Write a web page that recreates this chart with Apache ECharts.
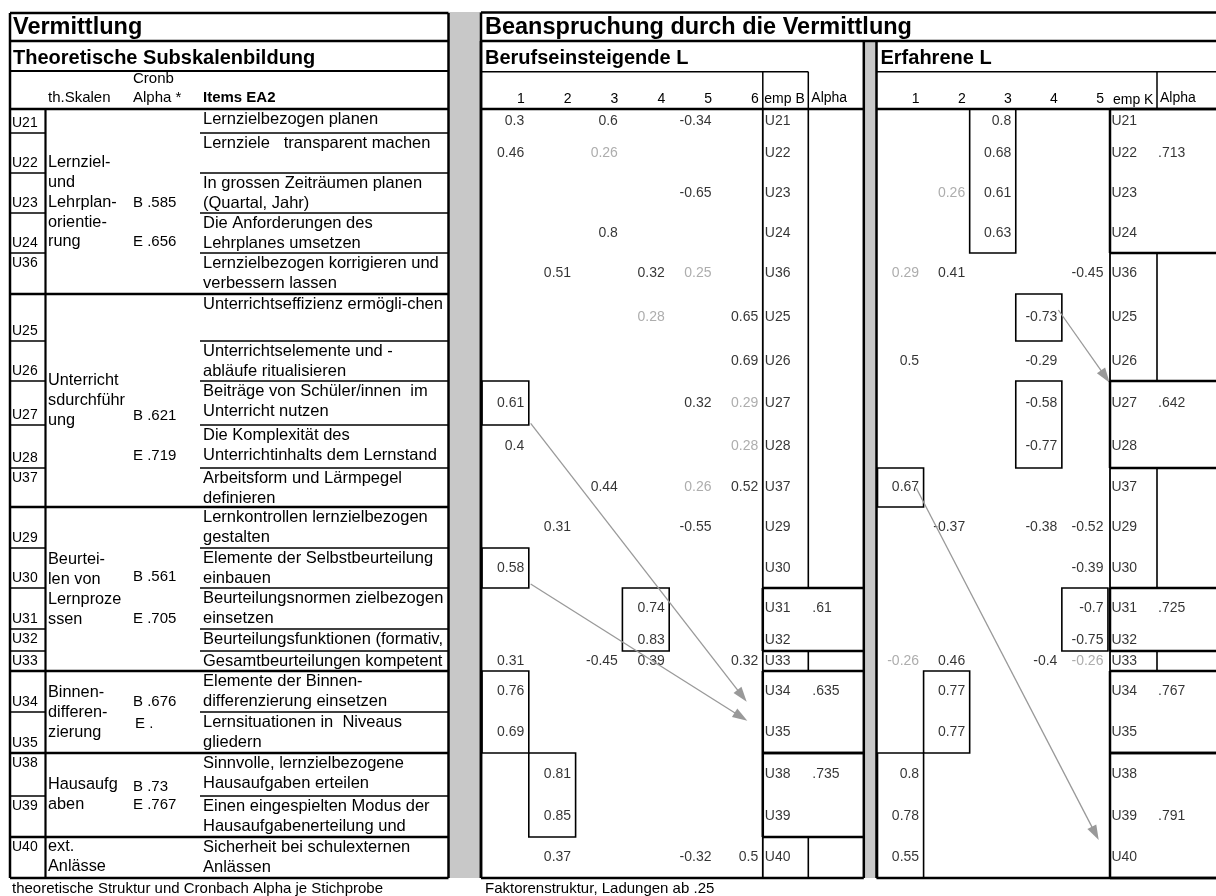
<!DOCTYPE html>
<html><head><meta charset="utf-8">
<script src="https://cdn.jsdelivr.net/npm/echarts@6/dist/echarts.min.js"></script>
<style>html,body{margin:0;padding:0;background:#fff}#c{width:1216px;height:896px}</style>
</head><body><div id="c"></div>
<script>
// ================= DATA =================
const codes = ['U21','U22','U23','U24','U36','U25','U26','U27','U28','U37','U29','U30','U31','U32','U33','U34','U35','U38','U39','U40'];
const items = [
  ['Lernzielbezogen planen'],
  ['Lernziele   transparent machen'],
  ['In grossen Zeiträumen planen','(Quartal, Jahr)'],
  ['Die Anforderungen des','Lehrplanes umsetzen'],
  ['Lernzielbezogen korrigieren und','verbessern lassen'],
  ['Unterrichtseffizienz ermögli-chen'],
  ['Unterrichtselemente und -','abläufe ritualisieren'],
  ['Beiträge von Schüler/innen  im','Unterricht nutzen'],
  ['Die Komplexität des','Unterrichtinhalts dem Lernstand'],
  ['Arbeitsform und Lärmpegel','definieren'],
  ['Lernkontrollen lernzielbezogen','gestalten'],
  ['Elemente der Selbstbeurteilung','einbauen'],
  ['Beurteilungsnormen zielbezogen','einsetzen'],
  ['Beurteilungsfunktionen (formativ,'],
  ['Gesamtbeurteilungen kompetent'],
  ['Elemente der Binnen-','differenzierung einsetzen'],
  ['Lernsituationen in  Niveaus','gliedern'],
  ['Sinnvolle, lernzielbezogene','Hausaufgaben erteilen'],
  ['Einen eingespielten Modus der','Hausaufgabenerteilung und'],
  ['Sicherheit bei schulexternen','Anlässen']
];
const scaleNames = [
  ['Lernziel-','und','Lehrplan-','orientie-','rung'],
  ['Unterricht','sdurchführ','ung'],
  ['Beurtei-','len von','Lernproze','ssen'],
  ['Binnen-','differen-','zierung'],
  ['Hausaufg','aben'],
  ['ext.','Anlässe']
];
const scaleAlphaB = ['B .585','B .621','B .561','B .676','B .73',''];
const scaleAlphaE = ['E .656','E .719','E .705','E .','E .767',''];
const scaleLastRow = ['U36','U37','U33','U35','U39','U40'];

const factorLabelsB = ['1','2','3','4','5','6'];
const factorLabelsE = ['1','2','3','4','5'];

// loadings, Berufseinsteigende (factors 1..6)
const loadB = [
  [0.3,null,0.6,null,-0.34,null],
  [0.46,null,0.26,null,null,null],
  [null,null,null,null,-0.65,null],
  [null,null,0.8,null,null,null],
  [null,0.51,null,0.32,0.25,null],
  [null,null,null,0.28,null,0.65],
  [null,null,null,null,null,0.69],
  [0.61,null,null,null,0.32,0.29],
  [0.4,null,null,null,null,0.28],
  [null,null,0.44,null,0.26,0.52],
  [null,0.31,null,null,-0.55,null],
  [0.58,null,null,null,null,null],
  [null,null,null,0.74,null,null],
  [null,null,null,0.83,null,null],
  [0.31,null,-0.45,0.39,null,0.32],
  [0.76,null,null,null,null,null],
  [0.69,null,null,null,null,null],
  [null,0.81,null,null,null,null],
  [null,0.85,null,null,null,null],
  [null,0.37,null,null,-0.32,0.5]
];
// loadings, Erfahrene (factors 1..5)
const loadE = [
  [null,null,0.8,null,null],
  [null,null,0.68,null,null],
  [null,0.26,0.61,null,null],
  [null,null,0.63,null,null],
  [0.29,0.41,null,null,-0.45],
  [null,null,null,-0.73,null],
  [0.5,null,null,-0.29,null],
  [null,null,null,-0.58,null],
  [null,null,null,-0.77,null],
  [0.67,null,null,null,null],
  [null,-0.37,null,-0.38,-0.52],
  [null,null,null,null,-0.39],
  [null,null,null,null,-0.7],
  [null,null,null,null,-0.75],
  [-0.26,0.46,null,-0.4,-0.26],
  [null,0.77,null,null,null],
  [null,0.77,null,null,null],
  [0.8,null,null,null,null],
  [0.78,null,null,null,null],
  [0.55,null,null,null,null]
];
// weak (secondary) loadings, [item, factor]
const weakB = [['U22',3],['U36',5],['U25',4],['U27',6],['U28',6],['U37',5]];
const weakE = [['U23',2],['U36',1],['U33',1],['U33',5]];
const alphaB = [['U31','.61'],['U34','.635'],['U38','.735']];
const alphaE = [['U22','.713'],['U27','.642'],['U31','.725'],['U34','.767'],['U39','.791']];
const empGroupsB = [['U31','U32'],['U34','U35'],['U38','U39']];
const empGroupsE = [['U21','U24'],['U27','U28'],['U31','U32'],['U34','U35'],['U38','U40']];
const boxesB = [[1,'U27','U27'],[1,'U30','U30'],[4,'U31','U32'],[1,'U34','U35'],[2,'U38','U39']];
const boxesE = [[3,'U21','U24'],[4,'U25','U25'],[4,'U27','U28'],[1,'U37','U37'],[5,'U31','U32'],[2,'U34','U35'],[1,'U38','U40']];
const arrowsB = [[1,'U27','U34'],[1,'U30','U35']];
const arrowsE = [[4,'U25','U27'],[1,'U37','U39']];

// ================= LAYOUT =================
const FONT = '"Liberation Sans", Arial, Helvetica, sans-serif';
const rowBounds = [109,133,173,213,253,294,341,381,425,468,507,548,588,629,651,671,712,753,796,837,878];
const codeAlign = ['b','b','b','b','t','b','b','b','b','t','b','b','b','t','t','b','b','t','t','t'];
const scaleY0 = [163,381,560,693,785,847];
const scaleAlphaBY = [203,416,577,702,787];
const scaleAlphaEY = [242,456,619,724,805];
const arrowLayB = [[0.04,20.3,-0.344,10.2],[0.04,16,-0.331,-11.8]];
const arrowLayE = [[-0.075,-7.5,0.037,-20.3],[-0.157,0.8,-0.2,23.5]];
const TOP = rowBounds[0], BOT = rowBounds[rowBounds.length-1], H = BOT - TOP;
const B = {x0:482, colW:46.8, nF:6, empW:45.5, alphaW:55.5, border:481};
const E = {x0:877.5, colW:46.5, nF:5, empW:47, alphaW:59, border:876.5};
[B,E].forEach(P => { P.w = P.nF*P.colW + P.empW + P.alphaW; P.right = P.x0 + P.w; P.empX = P.x0 + P.nF*P.colW; P.alX = P.empX + P.empW; });
const ri = c => codes.indexOf(c);
const yTop = i => rowBounds[i] - TOP, yBot = i => rowBounds[i+1] - TOP, yMid = i => (yTop(i) + yBot(i)) / 2;

// ================= GRAPHIC (table frame & texts) =================
const G = [];
const line = (x1,y1,x2,y2,w) => G.push({type:'line', silent:true, z:20, shape:{x1,y1,x2,y2}, style:{stroke:'#000', lineWidth:w}});
const rect = (x,y,w,h,fill) => G.push({type:'rect', silent:true, z:1, shape:{x,y,width:w,height:h}, style:{fill}});
const text = (x,y,t,size,bold,color) => G.push({type:'text', silent:true, z:20, x, y,
  style:{text:t, fill:color||'#000', font:(bold?'bold ':'')+size+'px '+FONT, textAlign:'left', textVerticalAlign:'middle', align:'left', verticalAlign:'middle'}});

// gray bands
rect(449, 12, 32, BOT-12, '#c8c8c8');
rect(B.right, 41, E.border - B.right, BOT-41, '#c8c8c8');

// ---- left panel ----
const L = {x0:10, x1:448.5, codeX:45.5, itemX:200};
line(L.x0,13,L.x1,13,2.5); line(L.x0,BOT,L.x1,BOT,2.5);
line(L.x0,13,L.x0,BOT,2.5); line(L.x1,13,L.x1,BOT,2.5);
line(L.x0,41,L.x1,41,2.5); line(L.x0,71,L.x1,71,2); line(L.x0,TOP,L.x1,TOP,2.5);
line(L.codeX,TOP,L.codeX,BOT,2.2);
const groupBounds = scaleLastRow.map(c => ri(c)+1);
for (let j = 1; j < rowBounds.length-1; j++) {
  const y = rowBounds[j];
  if (groupBounds.includes(j)) line(L.x0,y,L.x1,y,2.5);
  else { line(L.x0,y,L.codeX,y,1.6); line(L.itemX,y,L.x1,y,1.6); }
}
text(13, 28, 'Vermittlung', 23.5, true);
text(13, 58, 'Theoretische Subskalenbildung', 20, true);
text(48, 98, 'th.Skalen', 15);
text(133, 79, 'Cronb', 15);
text(133, 98, 'Alpha *', 15);
text(203, 98, 'Items EA2', 15, true);
codes.forEach((c,i) => text(12, codeAlign[i]==='b' ? rowBounds[i+1]-10 : rowBounds[i]+10, c, 14));
items.forEach((lines,i) => lines.forEach((t,k) => text(203, rowBounds[i]+10.5+k*20, t, 16.5)));
scaleNames.forEach((lines,g) => lines.forEach((t,k) => text(48, scaleY0[g]+k*19.7, t, 16.3)));
scaleAlphaB.forEach((t,g) => { if (t) text(133, scaleAlphaBY[g], t, 15); });
scaleAlphaE.forEach((t,g) => { if (t) text(g===3?135:133, scaleAlphaEY[g], t, 15); });
text(12, 889, 'theoretische Struktur und Cronbach Alpha je Stichprobe', 15);

// ---- right panels frame ----
line(B.border,12.5,1222,12.5,2.5); line(B.border,41,1222,41,2.5);
line(B.border,12.5,B.border,BOT,2.5);
text(485, 28, 'Beanspruchung durch die Vermittlung', 23.5, true);
text(485, 889, 'Faktorenstruktur, Ladungen ab .25', 15);

function panelFrame(P, groups, title, hdr) {
  const xr = P === B ? P.right : 1222;
  if (P === B) line(P.right, 41, P.right, BOT, 2.5);
  line(P.border, 41, P.border, BOT, 2.5);
  line(P.border, BOT, xr, BOT, 2.5);
  line(P.border, TOP, xr, TOP, 2.5);
  text(P.border+4, 58, title, 20, true);
  // header row
  const hEnd = P === B ? P.alX : xr;
  line(P.border, 71.7, hEnd, 71.7, 1.5);
  if (P === B) line(P.empX, 71.7, P.empX, TOP, 1.5);
  line(P.alX, 71.7, P.alX, TOP, 1.5);
  text(P.empX + (P===B?1.5:3), P===B?99:100, hdr, 14);
  text(P.alX + 3, 98, 'Alpha', 14);
  // emp column
  line(P.empX, TOP, P.empX, BOT, 1.8);
  const inGroup = new Array(codes.length).fill(false);
  groups.forEach(g => {
    const a = ri(g[0]), b = ri(g[1]);
    for (let i = a; i <= b; i++) inGroup[i] = true;
    const y0 = rowBounds[a], y1 = rowBounds[b+1];
    line(P.empX, y0, xr, y0, 2.5); line(P.empX, y1, xr, y1, 2.5);
    line(P.empX, y0, P.empX, y1, 2.5);
  });
  codes.forEach((c,i) => { if (!inGroup[i]) line(P.alX, rowBounds[i], P.alX, rowBounds[i+1], 1.6); });
}
panelFrame(B, empGroupsB, 'Berufseinsteigende L', 'emp B');
panelFrame(E, empGroupsE, 'Erfahrene L', 'emp K');

// ================= SERIES =================
function axisPair(P, idx, labels) {
  return {
    x: {gridIndex:idx, type:'value', min:0, max:P.w/P.colW, interval:1, position:'top',
        axisLine:{show:false}, axisTick:{show:false}, splitLine:{show:false},
        axisLabel:{show:true, margin:10, align:'right', verticalAlign:'middle', padding:[0,4,0,0],
          fontSize:14, color:'#000', fontFamily:FONT,
          formatter: v => (Math.abs(v-Math.round(v))<1e-6 && labels[Math.round(v)-1]) ? labels[Math.round(v)-1] : ''}},
    y: {gridIndex:idx, type:'value', min:0, max:H, inverse:true, show:false}
  };
}
const axB = axisPair(B, 0, factorLabelsB), axE = axisPair(E, 1, factorLabelsE);

function loadingSeries(loads, weak, idx) {
  const data = [];
  loads.forEach((row,i) => row.forEach((v,k) => {
    if (v === null) return;
    const isWeak = weak.some(w => w[0] === codes[i] && w[1] === k+1);
    data.push({value:[k+1, yMid(i), v], label:{color: isWeak ? '#999' : '#000'}});
  }));
  return {type:'scatter', xAxisIndex:idx, yAxisIndex:idx, symbolSize:1, silent:true, clip:false,
    itemStyle:{color:'rgba(0,0,0,0)'}, emphasis:{disabled:true},
    label:{show:true, position:'left', distance:4, fontSize:14, fontFamily:FONT,
      formatter: p => String(p.value[2])}, data};
}
function textSeries(P, idx, entries, xv, dist) {
  return {type:'scatter', xAxisIndex:idx, yAxisIndex:idx, symbolSize:1, silent:true, clip:false,
    itemStyle:{color:'rgba(0,0,0,0)'}, emphasis:{disabled:true},
    label:{show:true, position:'right', distance:dist, fontSize:14, fontFamily:FONT, color:'#000',
      formatter: p => p.name},
    data: entries.map(e => ({name:e[1], value:[xv, yMid(ri(e[0]))]}))};
}
function boxSeries(boxes, idx) {
  return {type:'custom', xAxisIndex:idx, yAxisIndex:idx, silent:true, clip:false, z:5,
    data: boxes.map(b => [b[0], ri(b[1]), ri(b[2])]),
    renderItem: (params, api) => {
      const c = api.value(0), r0 = api.value(1), r1 = api.value(2);
      const p0 = api.coord([c-1, yTop(r0)]), p1 = api.coord([c, yBot(r1)]);
      return {type:'rect', shape:{x:p0[0], y:p0[1], width:p1[0]-p0[0], height:p1[1]-p0[1]},
        style:{fill:'none', stroke:'#000', lineWidth:1.6}};
    }};
}
function arrowSeries(P, idx, arrows, lay) {
  const data = arrows.map((a,n) => {
    const l = lay[n];
    const sx = a[0] + l[0], sy = yMid(ri(a[1])) + l[1];
    const ex0 = P.nF + l[2], ey0 = yMid(ri(a[2])) + l[3];
    const dxp = (ex0 - sx) * P.colW, dyp = ey0 - sy, len = Math.hypot(dxp, dyp);
    const back = 7.5;
    return {coords:[[sx, sy], [ex0 - back*dxp/len/P.colW, ey0 - back*dyp/len]]};
  });
  return {type:'lines', coordinateSystem:'cartesian2d', xAxisIndex:idx, yAxisIndex:idx, silent:true, z:8,
    symbol:['none','triangle'], symbolSize:[1,[10,15]],
    lineStyle:{color:'#999', width:1.3, opacity:1, curveness:0}, data};
}

const option = {
  animation:false,
  backgroundColor:'#fff',
  grid:[
    {left:B.x0, top:TOP, width:B.w, height:H, containLabel:false},
    {left:E.x0, top:TOP, width:E.w, height:H, containLabel:false}
  ],
  xAxis:[axB.x, axE.x],
  yAxis:[axB.y, axE.y],
  graphic: G,
  series:[
    boxSeries(boxesB, 0), boxSeries(boxesE, 1),
    loadingSeries(loadB, weakB, 0), loadingSeries(loadE, weakE, 1),
    textSeries(B, 0, codes.map(c => [c, c]), B.nF, 1.5),
    textSeries(E, 1, codes.map(c => [c, c]), E.nF, 3),
    textSeries(B, 0, alphaB, B.nF + B.empW/B.colW, 3.5),
    textSeries(E, 1, alphaE, E.nF + E.empW/E.colW, 3),
    arrowSeries(B, 0, arrowsB, arrowLayB), arrowSeries(E, 1, arrowsE, arrowLayE)
  ]
};
const chart = echarts.init(document.getElementById('c'));
chart.setOption(option);
</script></body></html>
